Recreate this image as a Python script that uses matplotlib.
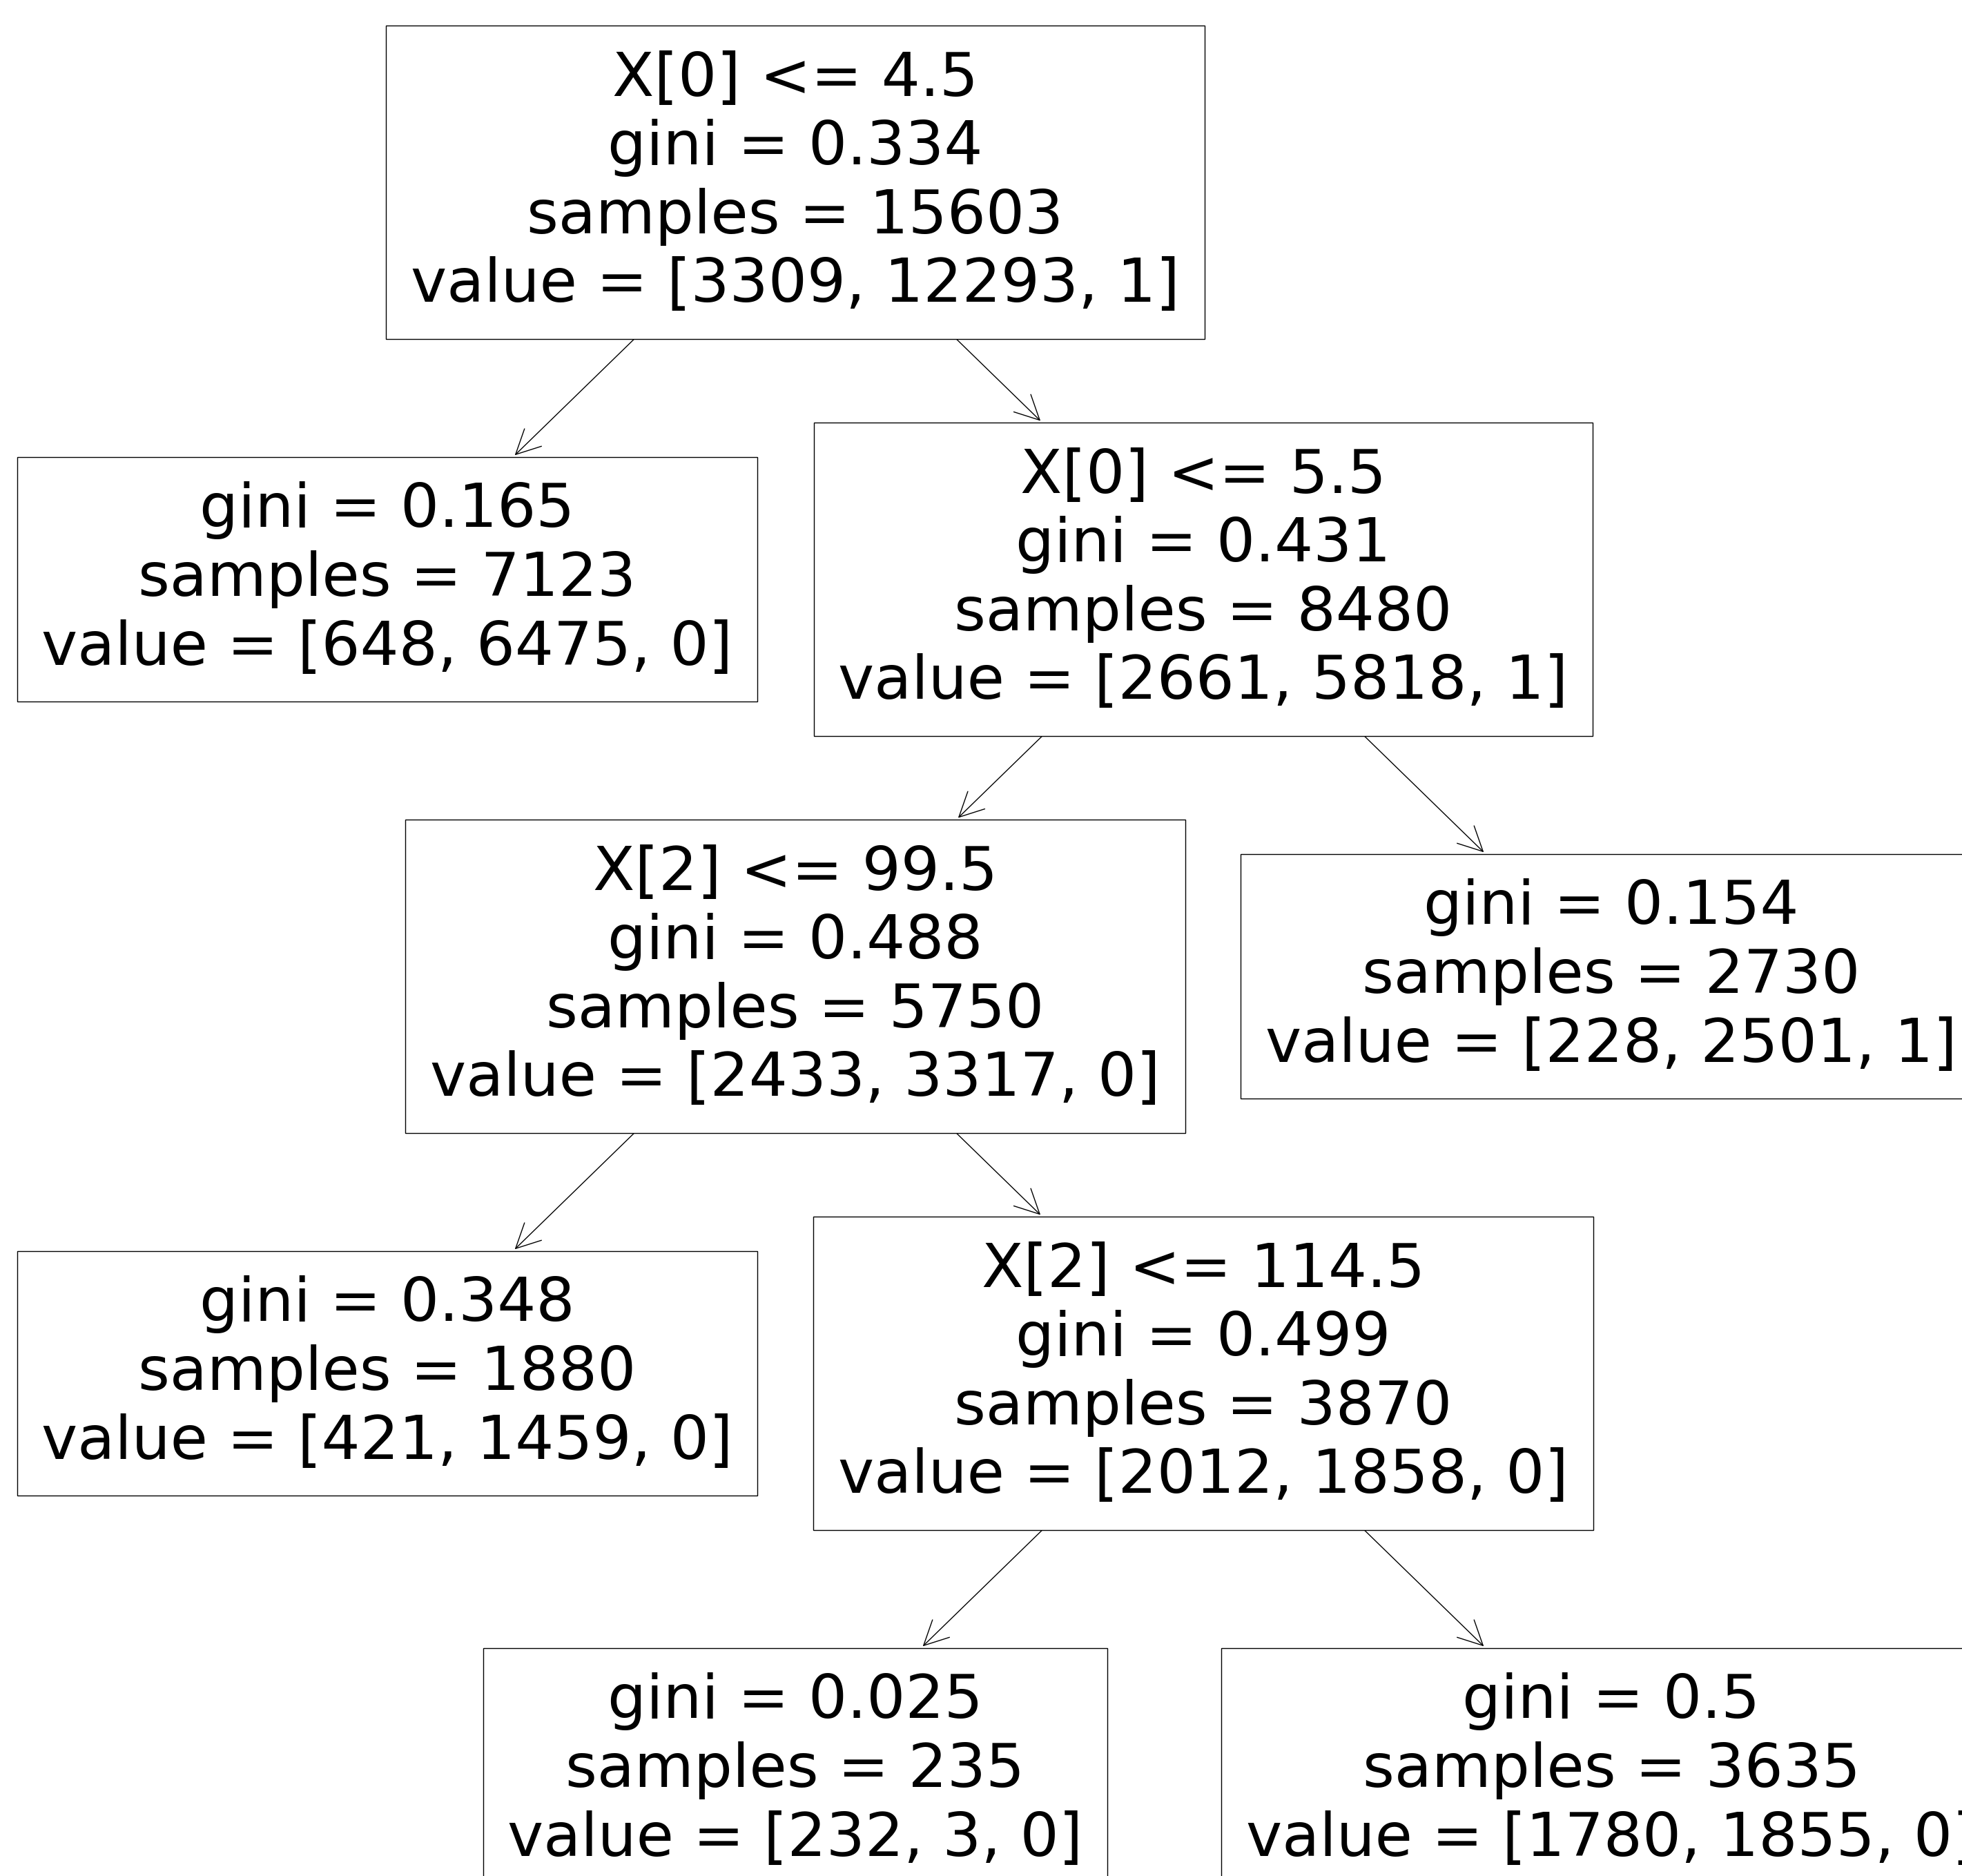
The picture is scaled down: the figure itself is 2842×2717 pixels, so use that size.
import numpy as np
import matplotlib
matplotlib.use('Agg')
import matplotlib.pyplot as plt

plt.rcParams['font.family'] = 'DejaVu Sans'

# tree nodes in preorder (sklearn node ids)
feature = [0, -2, 0, 2, -2, 2, -2, -2, -2]
threshold = [4.5, None, 5.5, 99.5, None, 114.5, None, None, None]
gini = [0.334, 0.165, 0.431, 0.488, 0.348, 0.499, 0.025, 0.5, 0.154]
samples = [15603, 7123, 8480, 5750, 1880, 3870, 235, 3635, 2730]
values = [[3309, 12293, 1], [648, 6475, 0], [2661, 5818, 1], [2433, 3317, 0],
          [421, 1459, 0], [2012, 1858, 0], [232, 3, 0], [1780, 1855, 0],
          [228, 2501, 1]]
children_left = [1, -1, 3, 4, -1, 6, -1, -1, -1]
children_right = [2, -1, 8, 5, -1, 7, -1, -1, -1]


def node_text(i):
    lines = []
    if children_left[i] != -1:
        lines.append('X[%d] <= %s' % (feature[i], threshold[i]))
    lines.append('gini = %s' % round(gini[i], 3))
    lines.append('samples = %d' % samples[i])
    lines.append('value = [%s]' % ', '.join(str(v) for v in values[i]))
    return '\n'.join(lines)


# simple layout: each child sits one column left / right of its parent
pos = {}


def place(i, col, depth):
    pos[i] = (col, depth)
    if children_left[i] != -1:
        place(children_left[i], col - 1, depth + 1)
        place(children_right[i], col + 1, depth + 1)


place(0, 1, 0)
max_x = max(p[0] for p in pos.values()) + 1
max_y = max(p[1] for p in pos.values()) + 1


def frac(i):
    col, depth = pos[i]
    return ((col + 0.5) / max_x, (max_y - depth - 0.5) / max_y)


W, H = 2842, 2717
fig = plt.figure(figsize=(W / 100, H / 100), dpi=100)
ax = fig.add_axes([265.5 / W, -134.5 / H, 2364 / W, 2875 / H])
ax.set_axis_off()

fs = 63.5
ls = 1.235
bbox = dict(boxstyle='square,pad=0.405', fc='white', ec='black', lw=1.0)

parent = {}
for i in range(len(feature)):
    if children_left[i] != -1:
        parent[children_left[i]] = i
        parent[children_right[i]] = i

for i in range(len(feature)):
    depth = pos[i][1]
    if i in parent:
        ax.annotate(node_text(i), xy=frac(parent[i]), xytext=frac(i),
                    xycoords='axes fraction', textcoords='axes fraction',
                    ha='center', va='center', fontsize=fs, linespacing=ls,
                    bbox=bbox, zorder=100 - 10 * depth,
                    arrowprops=dict(arrowstyle='<-', lw=1.0))
    else:
        ax.annotate(node_text(i), xy=frac(i), xycoords='axes fraction',
                    ha='center', va='center', fontsize=fs, linespacing=ls,
                    bbox=bbox, zorder=100 - 10 * depth)

fig.savefig('out.png', dpi=100, facecolor='white')
